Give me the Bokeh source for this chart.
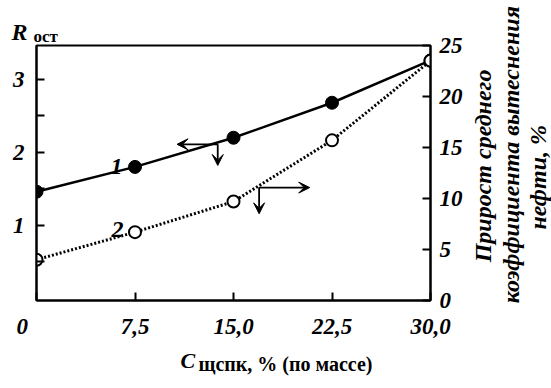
import math
from bokeh.plotting import figure
from bokeh.models import Range1d, LinearAxis, FixedTicker, Label, Arrow, VeeHead
from bokeh.embed import file_html
from bokeh.resources import INLINE

# ---- data ----
conc = [0, 7.5, 15, 22.5, 30]
r_ost = [1.46, 1.80, 2.20, 2.68, 3.26]
gain = [4.0, 6.7, 9.7, 15.7, 23.5]
x_ticks = [0, 7.5, 15, 22.5, 30]
x_tick_labels = ["0\u2007 \u2007", "7,5", "15,0", "22,5", "30,0"]
left_ticks = [0.5, 1, 1.5, 2, 2.5, 3]
left_tick_labels = ["", "1", "", "2", "", "3"]
right_ticks = [0, 5, 10, 15, 20, 25]

FONT = "Liberation Serif"

W, H = 551, 388
# frame geometry (pixels)
FL, FR, FT, FB = 36, 430, 42, 313
X0, X1 = 0, 30
YL0, YL1 = -0.032, 3.465
YR0, YR1 = 0, 25

def px2x(px):
    return X0 + (px - FL) / (FR - FL) * (X1 - X0)

def py2y(py):
    return YL0 + (FB - py) / (FB - FT) * (YL1 - YL0)

p = figure(width=W, height=H, x_range=Range1d(X0, X1), y_range=Range1d(YL0, YL1),
           output_backend="svg", toolbar_location=None,
           min_border_left=FL, min_border_right=W - FR,
           min_border_top=FT, min_border_bottom=H - FB)
p.extra_y_ranges = {"right": Range1d(YR0, YR1)}
p.xgrid.visible = False
p.ygrid.visible = False
p.outline_line_color = "black"
p.outline_line_width = 2
p.background_fill_color = "white"
p.border_fill_color = "white"

right_axis = LinearAxis(y_range_name="right")
p.add_layout(right_axis, "right")

def style_axis(ax, standoff):
    ax.axis_line_width = 2
    ax.axis_line_color = "black"
    ax.major_tick_in = 8
    ax.major_tick_out = 0
    ax.major_tick_line_width = 2
    ax.major_tick_line_color = "black"
    ax.minor_tick_in = 0
    ax.minor_tick_out = 0
    ax.major_label_text_font = FONT
    ax.major_label_text_font_style = "bold italic"
    ax.major_label_text_font_size = "23px"
    ax.major_label_text_color = "black"
    ax.major_label_standoff = standoff

xa = p.xaxis[0]
xa.ticker = FixedTicker(ticks=x_ticks)
xa.major_label_overrides = {t: l for t, l in zip(x_ticks, x_tick_labels)}
style_axis(xa, 13)

ya = p.yaxis[0]
ya.ticker = FixedTicker(ticks=left_ticks)
ya.major_label_overrides = {t: l for t, l in zip(left_ticks, left_tick_labels)}
style_axis(ya, 12)

right_axis.ticker = FixedTicker(ticks=right_ticks)
style_axis(right_axis, 9)

# ---- series ----
p.line(conc, r_ost, line_width=2.5, line_color="black")
p.scatter(conc, r_ost, size=13, fill_color="black", line_color="black")
p.line(conc, gain, y_range_name="right", line_width=3, line_color="black", line_dash="2 2")
p.scatter(conc, gain, y_range_name="right", size=12, fill_color="white",
          line_color="black", line_width=2)

# ---- arrows ----
def arrow(xs, ys, xe, ye, rng="default"):
    p.add_layout(Arrow(end=VeeHead(size=11, fill_color="black", line_color="black", line_width=1),
                       x_start=xs, y_start=ys, x_end=xe, y_end=ye,
                       line_width=1.8, line_color="black", y_range_name=rng))

arrow(13.8, 2.11, 10.7, 2.11)
arrow(13.8, 2.11, 13.8, 1.82)
arrow(16.95, 11.07, 20.8, 11.07, "right")
arrow(16.95, 11.07, 16.95, 8.5, "right")

# ---- text ----
def lab(text, px, py, size, style="bold", align="left", baseline="alphabetic", angle=0,
        place="center"):
    l = Label(x=px2x(px), y=py2y(py), text=text, text_font=FONT,
              text_font_size=f"{size}px", text_font_style=style,
              text_align=align, text_baseline=baseline, angle=angle,
              text_color="black")
    if place == "center":
        p.add_layout(l)
    else:
        p.add_layout(l, place)

lab("1", 116, 171, 24, "bold italic", "center", "middle")
lab("2", 117, 238, 24, "bold italic", "center", "middle")

# texts outside the frame live in side panels (each panel has limited room)
lab("R", 11, 28, 24, "bold italic", place="above")
lab("ост", 33, 32, 17, "bold", place="above")

lab("Прирост среднего", 482, 170, 24, "bold italic", "center", "middle", math.pi / 2, place="right")
lab("коэффициента вытеснения", 510, 158, 24, "bold italic", "center", "middle", math.pi / 2, place="right")
lab("нефти, %", 537, 182, 24, "bold italic", "center", "middle", math.pi / 2, place="right")

lab("C", 180, 377, 22, "bold italic", place="below")
lab("щспк, % (по массе)", 198, 380, 20, "bold", place="below")

open("out.html", "w").write(file_html(p, INLINE))
